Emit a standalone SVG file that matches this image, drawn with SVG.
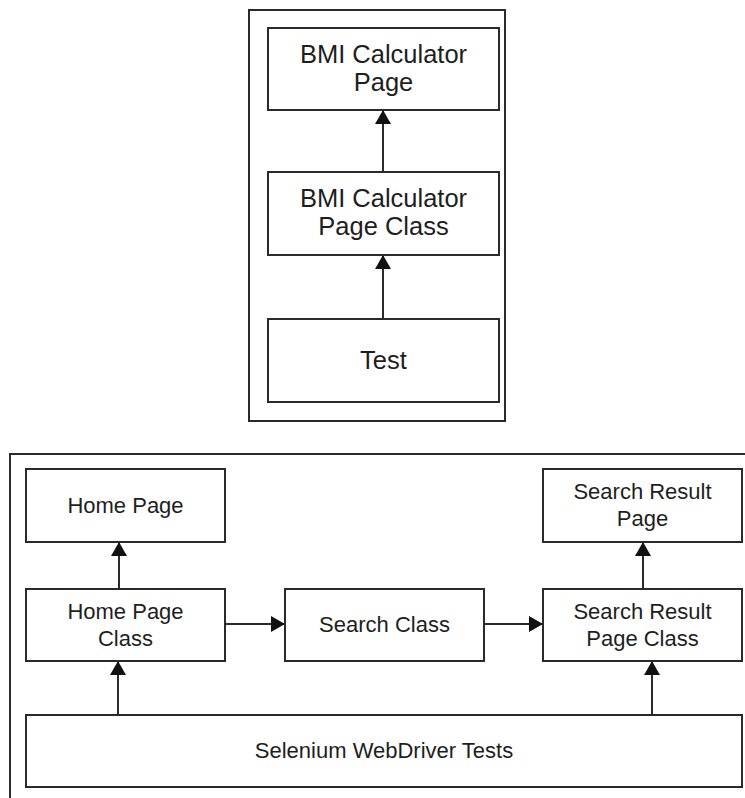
<svg xmlns="http://www.w3.org/2000/svg" width="745" height="798" viewBox="0 0 745 798">
  <style>
    .frame { fill: none; stroke: #2a2a2a; stroke-width: 2; }
    .box { fill: #ffffff; stroke: #2a2a2a; stroke-width: 2; }
    .lbl { font-family: "Liberation Sans", Arial, sans-serif; fill: #1e1e1e; text-anchor: middle; }
    .big { font-size: 25.5px; }
    .small { font-size: 22px; }
    .conn { stroke: #2a2a2a; stroke-width: 2; fill: none; marker-end: url(#arrow); }
  </style>
  <defs>
    <marker id="arrow" markerUnits="userSpaceOnUse" markerWidth="17" markerHeight="17" refX="13" refY="8" orient="auto">
      <path d="M0,0 L14,8 L0,16 z" fill="#111111"/>
    </marker>
  </defs>
  <rect width="745" height="798" fill="#ffffff"/>

  <!-- frames -->
  <rect class="frame" x="249" y="10" width="256" height="411"/>
  <rect class="frame" x="10" y="454" width="780" height="400"/>

  <!-- connectors -->
  <g id="connectors">
    <line class="conn" x1="383" y1="172" x2="383" y2="111"/>
    <line class="conn" x1="383" y1="319" x2="383" y2="256"/>
    <line class="conn" x1="119" y1="589" x2="119" y2="543"/>
    <line class="conn" x1="118" y1="715" x2="118" y2="662"/>
    <line class="conn" x1="225" y1="624" x2="284" y2="624"/>
    <line class="conn" x1="484" y1="624" x2="542" y2="624"/>
    <line class="conn" x1="643" y1="589" x2="643" y2="543"/>
    <line class="conn" x1="652" y1="715" x2="652" y2="662"/>
  </g>

  <!-- top diagram nodes -->
  <g id="bmi-page">
    <rect class="box" x="268" y="28" width="231" height="82"/>
    <text class="lbl big" x="383.5" y="63">BMI Calculator</text>
    <text class="lbl big" x="383.5" y="91">Page</text>
  </g>
  <g id="bmi-page-class">
    <rect class="box" x="268" y="172" width="231" height="83"/>
    <text class="lbl big" x="383.5" y="207">BMI Calculator</text>
    <text class="lbl big" x="383.5" y="235">Page Class</text>
  </g>
  <g id="test">
    <rect class="box" x="268" y="319" width="231" height="83"/>
    <text class="lbl big" x="383.5" y="369">Test</text>
  </g>

  <!-- bottom diagram nodes -->
  <g id="home-page">
    <rect class="box" x="26" y="469" width="199" height="73"/>
    <text class="lbl small" x="125.5" y="513">Home Page</text>
  </g>
  <g id="home-page-class">
    <rect class="box" x="26" y="589" width="199" height="72"/>
    <text class="lbl small" x="125.5" y="619">Home Page</text>
    <text class="lbl small" x="125.5" y="646">Class</text>
  </g>
  <g id="search-class">
    <rect class="box" x="285" y="589" width="199" height="72"/>
    <text class="lbl small" x="384.5" y="632">Search Class</text>
  </g>
  <g id="search-result-page">
    <rect class="box" x="543" y="469" width="199" height="73"/>
    <text class="lbl small" x="642.5" y="499">Search Result</text>
    <text class="lbl small" x="642.5" y="526">Page</text>
  </g>
  <g id="search-result-page-class">
    <rect class="box" x="543" y="589" width="199" height="72"/>
    <text class="lbl small" x="642.5" y="619">Search Result</text>
    <text class="lbl small" x="642.5" y="646">Page Class</text>
  </g>
  <g id="selenium-tests">
    <rect class="box" x="26" y="715" width="716" height="72"/>
    <text class="lbl small" x="384" y="758">Selenium WebDriver Tests</text>
  </g>
</svg>
